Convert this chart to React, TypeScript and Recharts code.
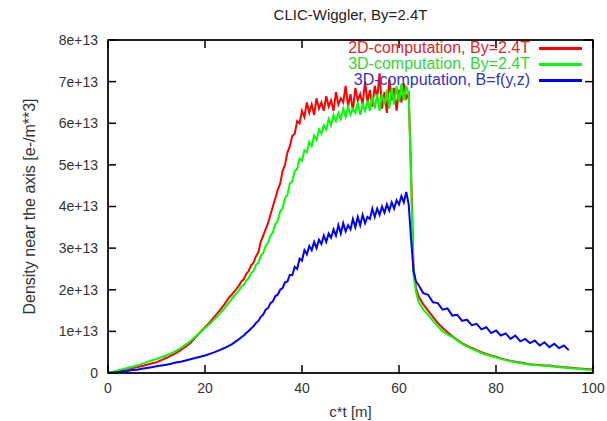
import React from 'react';
import { LineChart, Line, XAxis, YAxis } from 'recharts';

// c*t [m]
const ct = [
  0, 1, 2, 3, 4, 5, 6, 7, 8, 9, 10, 11, 12, 13, 14, 15, 16, 17, 18, 19, 20, 21, 22, 23, 24, 25,
  25.5, 26, 26.5, 27, 27.5, 28, 28.5, 29, 29.5, 30,
  30.5, 31, 31.5, 32, 32.5, 33, 33.5, 34, 34.5, 35,
  35.5, 36, 36.5, 37, 37.5, 38, 38.5, 39, 39.5, 40,
  40.5, 41, 41.5, 42, 42.5, 43, 43.5, 44, 44.5, 45,
  45.5, 46, 46.5, 47, 47.5, 48, 48.5, 49, 49.5, 50,
  50.5, 51, 51.5, 52, 52.5, 53, 53.5, 54, 54.5, 55,
  55.5, 56, 56.5, 57, 57.5, 58, 58.5, 59, 59.5, 60,
  60.5, 61, 61.5, 62,
  62.5, 63, 63.5,
  64, 65, 66, 67, 68, 69, 70, 71, 72, 73,
  74, 75, 76, 77, 78, 79, 80, 81, 82, 83,
  84, 85, 86, 87, 88, 89, 90, 91, 92, 93,
  94, 95, 96, 97, 98, 99, 100,
];

// density near the axis, in units of 1e13 e-/m**3
const density2D = [
  0, 0.02, 0.04, 0.07, 0.09, 0.12, 0.14, 0.17, 0.2, 0.23, 0.26, 0.31, 0.36, 0.42, 0.48, 0.55, 0.63, 0.72, 0.85, 0.98, 1.1, 1.22, 1.36, 1.5, 1.65, 1.82,
  1.88, 1.95, 2.02, 2.1, 2.2, 2.25, 2.38, 2.45, 2.58, 2.65,
  2.8, 2.9, 3.15, 3.3, 3.45, 3.6, 3.8, 4.0, 4.2, 4.4,
  4.55, 4.85, 5.0, 5.3, 5.45, 5.7, 5.75, 6.05, 6.0, 6.3,
  6.15, 6.5, 6.25, 6.45, 6.2, 6.6, 6.35, 6.5, 6.3, 6.65,
  6.4, 6.55, 6.3, 6.75, 6.45, 6.6, 6.5, 6.9, 6.4, 6.7,
  6.3, 6.85, 6.55, 6.7, 6.45, 7.0, 6.5, 6.8, 6.4, 6.9,
  6.6, 7.2, 6.35, 6.75, 6.25, 7.05, 6.55, 6.85, 6.3, 6.8,
  6.5, 6.95, 6.6, 6.7,
  4.8, 2.5, 2.05,
  1.85, 1.65, 1.5, 1.35, 1.2, 1.08, 0.98, 0.88, 0.8, 0.72,
  0.66, 0.6, 0.55, 0.5, 0.46, 0.42, 0.39, 0.35, 0.32, 0.29,
  0.27, 0.25, 0.23, 0.21, 0.2, 0.19, 0.18, 0.18, 0.16, 0.15,
  0.14, 0.13, 0.12, 0.11, 0.1, 0.09, 0.09,
];

const density3D = [
  0, 0.03, 0.06, 0.09, 0.12, 0.15, 0.18, 0.22, 0.26, 0.3, 0.34, 0.38, 0.42, 0.47, 0.53, 0.6, 0.68, 0.77, 0.87, 0.98, 1.08, 1.18, 1.3, 1.42, 1.55, 1.7,
  1.78, 1.85, 1.92, 1.98, 2.08, 2.12, 2.22, 2.28, 2.4, 2.45,
  2.6, 2.65, 2.82, 2.88, 3.05, 3.12, 3.3, 3.38, 3.58, 3.65,
  3.88, 3.95, 4.2, 4.28, 4.55, 4.6, 4.85, 4.9, 5.15, 5.1,
  5.35, 5.3, 5.55, 5.45, 5.7, 5.6, 5.85, 5.75, 5.95, 5.85,
  6.1, 5.95, 6.2, 6.05, 6.25, 6.1, 6.35, 6.15, 6.4, 6.2,
  6.35, 6.25, 6.5, 6.2, 6.45, 6.3, 6.55, 6.3, 6.65, 6.35,
  6.7, 6.3, 6.7, 6.45, 6.8, 6.35, 6.85, 6.45, 6.9, 6.5,
  6.95, 6.55, 6.9, 6.7,
  4.6, 2.35, 1.95,
  1.72, 1.52, 1.4, 1.25, 1.12, 1.0, 0.93, 0.86, 0.78, 0.7,
  0.64, 0.58, 0.53, 0.48, 0.44, 0.41, 0.38, 0.34, 0.31, 0.28,
  0.26, 0.24, 0.22, 0.2, 0.19, 0.18, 0.17, 0.17, 0.15, 0.14,
  0.13, 0.12, 0.11, 0.1, 0.09, 0.08, 0.08,
];

const density3DB = [
  0, 0.01, 0.02, 0.04, 0.05, 0.07, 0.08, 0.1, 0.12, 0.14, 0.16, 0.18, 0.2, 0.22, 0.25, 0.27, 0.3, 0.33, 0.36, 0.39, 0.42, 0.46, 0.5, 0.55, 0.6, 0.66,
  0.69, 0.73, 0.77, 0.81, 0.86, 0.9, 0.96, 1.01, 1.07, 1.12,
  1.2, 1.25, 1.35, 1.4, 1.52, 1.56, 1.68, 1.72, 1.85, 1.88,
  2.0, 2.04, 2.18, 2.2, 2.36, 2.35, 2.55, 2.5, 2.75, 2.7,
  2.95, 2.85, 3.05, 2.95, 3.15, 3.0, 3.2, 3.1, 3.3, 3.15,
  3.35, 3.25, 3.45, 3.3, 3.55, 3.35, 3.6, 3.4, 3.55, 3.45,
  3.7, 3.5, 3.75, 3.55, 3.8, 3.6, 3.75, 3.7, 3.95, 3.75,
  3.95, 3.8, 4.0, 3.85, 4.05, 3.9, 4.1, 3.95, 4.15, 4.05,
  4.25, 4.1, 4.35, 4.05,
  3.2, 2.45, 2.2,
  2.12, 1.92, 1.88, 1.7, 1.68, 1.52, 1.55, 1.38, 1.4, 1.25,
  1.28, 1.15, 1.18, 1.05, 1.1, 0.96, 1.02, 0.9, 0.95, 0.82,
  0.9, 0.76, 0.82, 0.72, 0.78, 0.66, 0.74, 0.62, 0.7, 0.6,
  0.66, 0.55, null, null, null, null, null,
];

const xTicks = [0, 20, 40, 60, 80, 100];
const yTicks = [0, 1, 2, 3, 4, 5, 6, 7, 8];

const series = [
  { key: 'd2', name: '2D-computation, By=2.4T', color: '#ff0000', text: '#e32626' },
  { key: 'd3', name: '3D-computation, By=2.4T', color: '#00ff00', text: '#33d633' },
  { key: 'd3b', name: '3D-computation, B=f(y,z)', color: '#0000ff', text: '#3333c4' },
];

const data = ct.map((x, i) => ({
  ct: x,
  d2: density2D[i],
  d3: density3D[i],
  d3b: density3DB[i],
}));

const fmtY = (v: number) => (v === 0 ? '0' : `${v}e+13`);

const W = 607;
const H = 421;
const M = { top: 39, right: 13, bottom: 3, left: 8 };
const Y_AXIS_W = 100;
const X_AXIS_H = 45;
const PLOT_X = M.left + Y_AXIS_W;
const PLOT_Y = M.top + 1;
const PLOT_W = W - M.left - M.right - Y_AXIS_W - 1;
const PLOT_H = H - M.top - M.bottom - X_AXIS_H - 1;

const X_MAX = xTicks[xTicks.length - 1];
const Y_MAX = yTicks[yTicks.length - 1];
const TICK = 8; // gnuplot ticks point into the plot

const GAP = 10;
const labelColor = '#333';

const BottomTick = ({ x, y, payload }: any) => (
  <text x={x} y={y} dy="0.71em" textAnchor="middle" fill={labelColor} fontSize={14}>
    {payload.value}
  </text>
);

const LeftTick = ({ x, y, payload }: any) => (
  <text x={x} y={y} dy="0.355em" textAnchor="end" fill={labelColor} fontSize={14}>
    {fmtY(payload.value)}
  </text>
);

// inward tick marks and frame, placed on the same linear mapping as the axes
const TickFrame = () => {
  const px = (v: number) => PLOT_X + (v / X_MAX) * PLOT_W;
  const py = (v: number) => PLOT_Y + PLOT_H - (v / Y_MAX) * PLOT_H;
  return (
    <svg
      width={W}
      height={H}
      style={{ position: 'absolute', left: 0, top: 0, pointerEvents: 'none' }}
    >
      <g stroke="#000" strokeWidth={1.5} fill="none">
        <rect x={PLOT_X} y={PLOT_Y} width={PLOT_W} height={PLOT_H} />
        {xTicks.map((t) => (
          <g key={`x${t}`}>
            <line x1={px(t)} x2={px(t)} y1={PLOT_Y + PLOT_H} y2={PLOT_Y + PLOT_H - TICK} />
            <line x1={px(t)} x2={px(t)} y1={PLOT_Y} y2={PLOT_Y + TICK} />
          </g>
        ))}
        {yTicks.map((v) => (
          <g key={`y${v}`}>
            <line x1={PLOT_X} x2={PLOT_X + TICK} y1={py(v)} y2={py(v)} />
            <line x1={PLOT_X + PLOT_W} x2={PLOT_X + PLOT_W - TICK} y1={py(v)} y2={py(v)} />
          </g>
        ))}
      </g>
    </svg>
  );
};

const GnuLegend = () => (
  <div style={{ position: 'absolute', top: 0, left: 0, width: W, height: 0 }}>
    {series.map((s, i) => (
      <div key={s.key} style={{ position: 'absolute', top: 39 + i * 16, left: 0, width: W, height: 18 }}>
        <span
          style={{
            position: 'absolute',
            right: 77,
            top: 0,
            fontSize: 16,
            lineHeight: '18px',
            color: s.text,
            whiteSpace: 'nowrap',
          }}
        >
          {s.name}
        </span>
        <span
          style={{
            position: 'absolute',
            left: 539,
            top: 8,
            width: 43,
            height: 0,
            borderTop: `3px solid ${s.color}`,
          }}
        />
      </div>
    ))}
  </div>
);

export default function App() {
  return (
    <div
      style={{
        position: 'absolute',
        left: 0,
        top: 0,
        width: W,
        height: H,
        background: '#fff',
        fontFamily: '"Liberation Sans", Arial, sans-serif',
      }}
    >
      <div
        style={{
          position: 'absolute',
          top: 6,
          left: PLOT_X,
          width: PLOT_W,
          textAlign: 'center',
          fontSize: 15,
          color: '#222',
        }}
      >
        CLIC-Wiggler, By=2.4T
      </div>
      <LineChart width={W} height={H} data={data} margin={M}>
        <XAxis
          xAxisId="bottom"
          dataKey="ct"
          type="number"
          domain={[0, X_MAX]}
          ticks={xTicks}
          height={X_AXIS_H}
          axisLine={{ stroke: '#000' }}
          tickLine={false}
          tickSize={0}
          tickMargin={GAP}
          tick={BottomTick}
          label={{ value: 'c*t [m]', position: 'insideBottom', offset: 1, fill: labelColor, fontSize: 15 }}
        />
        <XAxis
          xAxisId="top"
          orientation="top"
          dataKey="ct"
          type="number"
          domain={[0, X_MAX]}
          ticks={xTicks}
          height={1}
          axisLine={{ stroke: '#000' }}
          tickLine={false}
          tick={false}
        />
        <YAxis
          yAxisId="left"
          type="number"
          domain={[0, Y_MAX]}
          ticks={yTicks}
          width={Y_AXIS_W}
          axisLine={{ stroke: '#000' }}
          tickLine={false}
          tickSize={0}
          tickMargin={GAP}
          tick={LeftTick}
          label={{
            value: 'Density near the axis [e-/m**3]',
            angle: -90,
            position: 'insideLeft',
            offset: 21,
            fill: labelColor,
            fontSize: 16,
            style: { textAnchor: 'middle' },
          }}
        />
        <YAxis
          yAxisId="right"
          orientation="right"
          type="number"
          domain={[0, Y_MAX]}
          ticks={yTicks}
          width={1}
          axisLine={{ stroke: '#000' }}
          tickLine={false}
          tick={false}
        />
        {series.map((s) => (
          <Line
            key={s.key}
            xAxisId="bottom"
            yAxisId="left"
            dataKey={s.key}
            name={s.name}
            type="linear"
            stroke={s.color}
            strokeWidth={2}
            dot={false}
            isAnimationActive={false}
          />
        ))}
      </LineChart>
      <TickFrame />
      <GnuLegend />
    </div>
  );
}
